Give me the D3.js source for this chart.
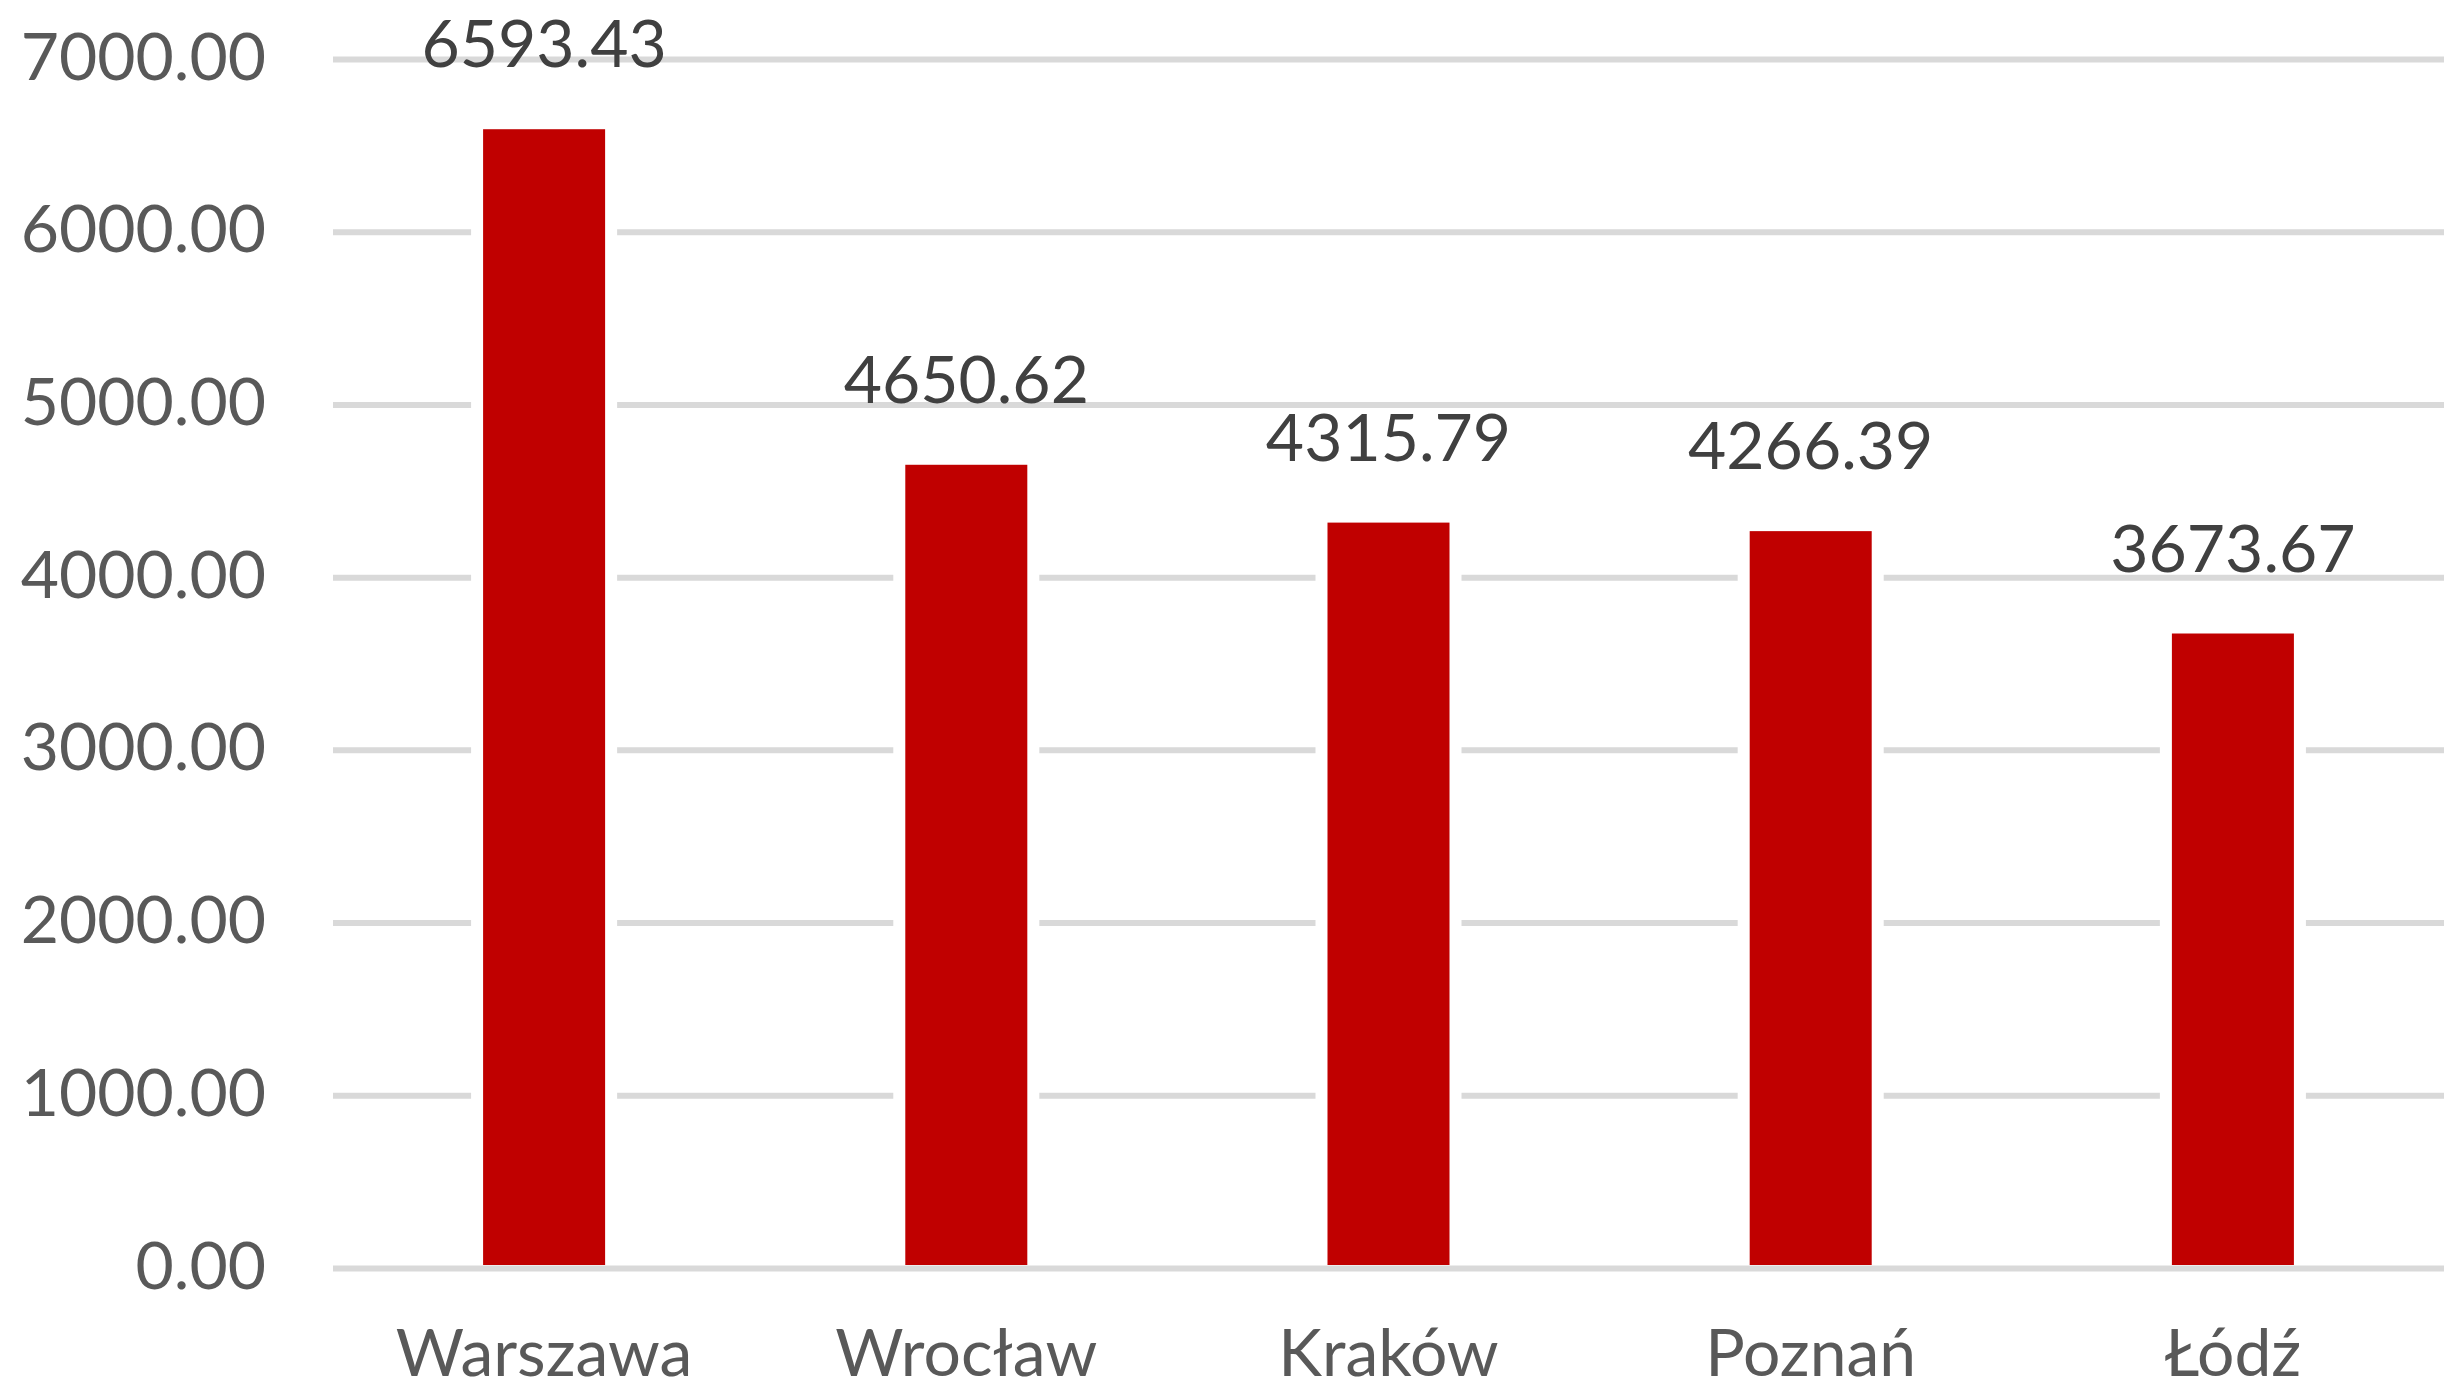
<!DOCTYPE html>
<html>
<head>
<meta charset="utf-8">
<script src="https://cdn.jsdelivr.net/npm/d3@7"></script>
<style>
  html, body { margin: 0; padding: 0; background: #fff; }
  svg { display: block; font-family: Lato, "Open Sans", sans-serif; }
</style>
</head>
<body>
<div id="chart"></div>
<script>
var cities = ["Warszawa", "Wrocław", "Kraków", "Poznań", "Łódź"];
var values = [6593.43, 4650.62, 4315.79, 4266.39, 3673.67];
var yTicks = [0, 1000, 2000, 3000, 4000, 5000, 6000, 7000];

var width = 2462, height = 1385;
// plot edges (named so they don't clash with window.top)
var plotLeft = 333, plotRight = 2444, plotTop = 59, plotBottom = 1268;
var fontSize = 66;

var svg = d3.select("#chart").append("svg")
  .attr("width", width)
  .attr("height", height);

var x = d3.scaleBand()
  .domain(cities)
  .range([plotLeft, plotRight])
  .paddingInner(0.711)
  .paddingOuter(0.3555);

var y = d3.scaleLinear()
  .domain([0, 7000])
  .range([plotBottom, plotTop]);

// gridlines + y labels
var yAxis = d3.axisLeft(y)
  .tickValues(yTicks)
  .tickFormat(d3.format(".2f"))
  .tickSize(-(plotRight - plotLeft))
  .tickPadding(plotLeft - 266);

var gAxis = svg.append("g")
  .attr("class", "y-axis")
  .attr("transform", "translate(" + plotLeft + ",0)")
  .call(yAxis);
gAxis.select(".domain").remove();
gAxis.selectAll(".tick line")
  .attr("stroke", "#d9d9d9")
  .attr("stroke-width", 6);
gAxis.selectAll(".tick text")
  .attr("dy", null)
  .attr("y", 20)
  .attr("fill", "#595959")
  .style("font-size", fontSize + "px")
  .style("font-family", "Lato, 'Open Sans', sans-serif");

// bars, with the white halo that cuts the gridlines beside them
var bars = svg.append("g").attr("class", "bars")
  .selectAll("g")
  .data(values)
  .enter().append("g");

bars.append("rect")
  .attr("x", function(d, i){ return x(cities[i]) - 12; })
  .attr("y", function(d){ return y(d) - 12; })
  .attr("width", x.bandwidth() + 24)
  .attr("height", function(d){ return y(0) - 3 - y(d) + 12; })
  .attr("fill", "#ffffff");

bars.append("rect")
  .attr("x", function(d, i){ return x(cities[i]); })
  .attr("y", function(d){ return y(d); })
  .attr("width", x.bandwidth())
  .attr("height", function(d){ return y(0) - 3 - y(d); })
  .attr("fill", "#c00000");

// data labels
svg.append("g").attr("class", "labels")
  .selectAll("text")
  .data(values)
  .enter().append("text")
    .attr("x", function(d, i){ return x(cities[i]) + x.bandwidth() / 2; })
    .attr("y", function(d){ return y(d) - 62; })
    .attr("text-anchor", "middle")
    .attr("fill", "#404040")
    .style("font-size", fontSize + "px")
    .text(function(d){ return d3.format(".2f")(d); });

// category labels
svg.append("g").attr("class", "x-labels")
  .selectAll("text")
  .data(cities)
  .enter().append("text")
    .attr("x", function(d){ return x(d) + x.bandwidth() / 2; })
    .attr("y", 1376)
    .attr("text-anchor", "middle")
    .attr("fill", "#595959")
    .style("font-size", fontSize + "px")
    .text(function(d){ return d; });
</script>
</body>
</html>
